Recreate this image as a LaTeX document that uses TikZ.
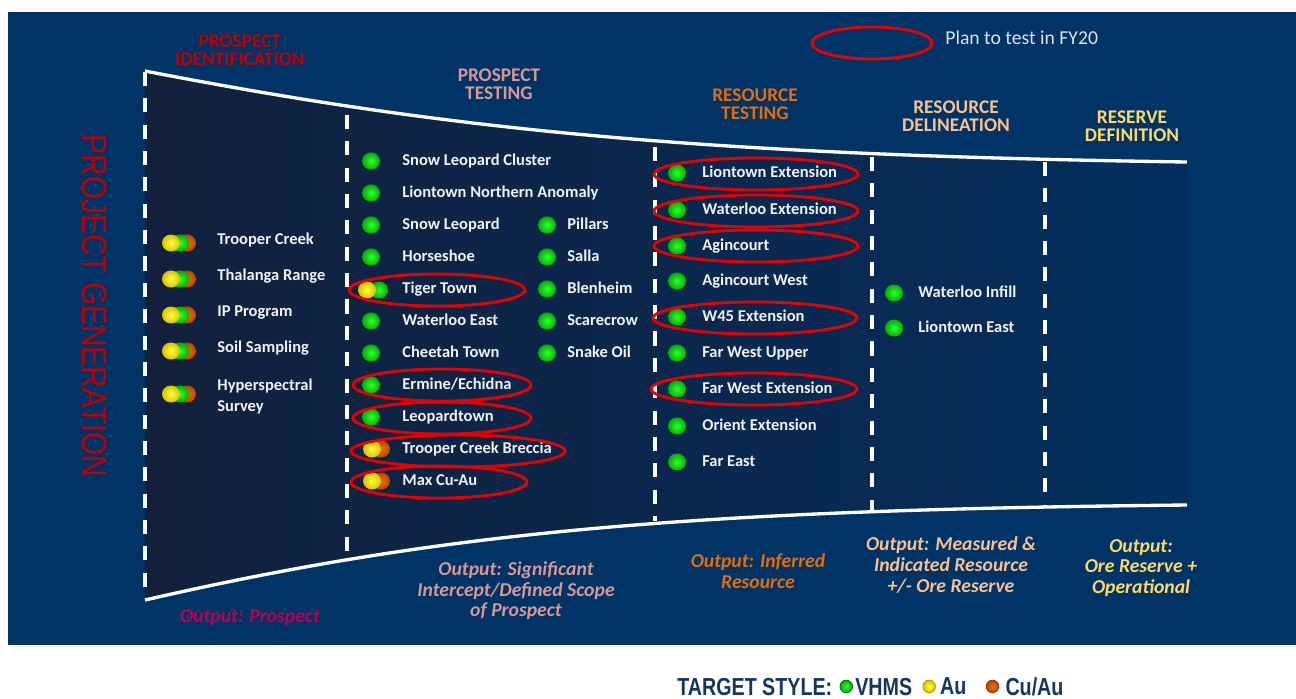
\documentclass[tikz,border=0pt]{standalone}
\usepackage{fontspec}
\setmainfont{Carlito}
\newfontfamily\gensans[FakeStretch=0.85]{Liberation Sans}
\newfontfamily\keysans[FakeStretch=0.8]{Liberation Sans}
\usepackage{xcolor}
\usepackage{tikz}
\usetikzlibrary{positioning}
\definecolor{bgblue}{RGB}{0,51,102}
\definecolor{funneldark}{RGB}{18,32,60}
\definecolor{funnellight}{RGB}{3,47,94}
\definecolor{idred}{RGB}{192,0,0}
\definecolor{prospred}{RGB}{190,0,80}
\definecolor{testpink}{RGB}{217,150,148}
\definecolor{resorange}{RGB}{228,108,10}
\definecolor{delpeach}{RGB}{250,192,144}
\definecolor{resyellow}{RGB}{255,217,102}
\definecolor{planred}{RGB}{235,0,0}
\definecolor{itemwhite}{RGB}{242,242,242}
\definecolor{notegrey}{RGB}{222,228,238}
\definecolor{keynavy}{RGB}{22,54,98}
\definecolor{vhmsin}{RGB}{50,255,50}
\definecolor{vhmsout}{RGB}{0,175,0}
\definecolor{auin}{RGB}{255,255,60}
\definecolor{auout}{RGB}{215,195,0}
\definecolor{cuin}{RGB}{240,112,12}
\definecolor{cuout}{RGB}{185,70,0}

\begin{document}
\begin{tikzpicture}[
    x=0.02cm, y=-0.02cm,
    stage/.style={align=center, inner sep=0pt, font=\fontsize{11}{10.3}\selectfont\bfseries},
    output/.style={align=center, inner sep=0pt, font=\fontsize{11.2}{11.7}\selectfont\bfseries\itshape},
    item/.style={anchor=mid west, inner sep=0pt, text=itemwhite, font=\fontsize{9.4}{11.5}\selectfont\bfseries},
    plan/.style={draw=planred, line width=1.6pt},
    rim/.style={draw=white, line width=1.9pt},
    divider/.style={draw=white, line width=2.2pt, dash pattern=on 8pt off 7pt},
    vhms/.style={inner color=vhmsin, outer color=vhmsout},
    au/.style={inner color=auin, outer color=auout},
    cuau/.style={inner color=cuin, outer color=cuout},
    pics/vhmsdot/.style={code={\shade[vhms] (0,0) ellipse (9 and 8.5);}},
    pics/augreendot/.style={code={\shade[vhms] (8,1) ellipse (9 and 8.5); \shade[au] (-4,1) ellipse (9 and 8.5);}},
    pics/aucudot/.style={code={\shade[cuau] (10,0) ellipse (9 and 8.5); \shade[au] (1,0) ellipse (9 and 8.5);}},
    pics/alldot/.style={code={\shade[cuau] (6,0) ellipse (9 and 8.5); \shade[vhms] (-1,0) ellipse (9 and 8.5); \shade[au] (-10,0) ellipse (9 and 8.5);}},
    key/.style={inner sep=0pt, text depth=0pt, text=keynavy, font=\keysans\fontsize{14}{15}\selectfont\bfseries},
    keydot/.style={circle, inner sep=0pt, minimum size=0.25cm, line width=0.5pt},
]
    \fill[white] (0,0) rectangle (1296,698);
    \useasboundingbox (0,0) rectangle (1296,698);
    \fill[bgblue] (8,12) rectangle (1296,645);

    % funnel
    \shade[left color=funneldark, right color=funnellight]
        (145,71) .. controls (450,130) and (700,155) .. (1187,162)
        -- (1187,505) .. controls (700,510) and (450,530) .. (145,600) -- cycle;
    \draw[rim] (145,71) .. controls (450,130) and (700,155) .. (1187,162);
    \draw[rim] (145,600) .. controls (450,530) and (700,510) .. (1187,505);
    \foreach \x/\ya/\yb in {145/72/599, 347/115/553, 655/147/521, 872/157/510, 1045/162/505}
        \draw[divider] (\x,\ya) -- (\x,\yb);

    % stages
    \node[stage, text=idred] (identify) at (240,50.5) {PROSPECT\\IDENTIFICATION};
    \node[stage, text=testpink] (testing) at (499,84) {PROSPECT\\TESTING};
    \node[stage, text=resorange] (restest) at (755,104) {RESOURCE\\TESTING};
    \node[stage, text=delpeach] (delineate) at (956,116.5) {RESOURCE\\DELINEATION};
    \node[stage, text=resyellow] (reserve) at (1132,126.5) {RESERVE\\DEFINITION};

    \node[rotate=-90, inner sep=0pt, text=idred, font=\gensans\fontsize{20}{20}\selectfont] (projgen) at (95,306) {PROJECT GENERATION};

    \draw[plan] (872,43) ellipse (60 and 16);
    \node[anchor=mid west, inner sep=0pt, text=notegrey, font=\fontsize{11.2}{13}\selectfont] (plannote) at (945,40) {Plan to test in FY20};

    % targets
    \foreach \y/\txt [count=\i] in {240/Trooper Creek, 276/Thalanga Range, 312/IP Program, 348/Soil Sampling}{
        \pic at (181,\y+3) {alldot};
        \node[item] (pi-\i) at (217,\y) {\txt};
    }
    \pic at (181,394) {alldot};
    \node[item, anchor=north west, align=left] (pi-5) at (217,379) {Hyperspectral\\Survey};

    \foreach \y/\kind/\txt [count=\i] in {161/vhmsdot/Snow Leopard Cluster, 193/vhmsdot/Liontown Northern Anomaly,
        225/vhmsdot/Snow Leopard, 257/vhmsdot/Horseshoe, 289/augreendot/Tiger Town, 321/vhmsdot/Waterloo East,
        353/vhmsdot/Cheetah Town, 385/vhmsdot/{Ermine/Echidna}, 417/vhmsdot/Leopardtown,
        449/aucudot/Trooper Creek Breccia, 481/aucudot/Max Cu-Au}{
        \pic at (371,\y) {\kind};
        \node[item] (pt-\i) at (402,\y) {\txt};
    }
    \foreach \y/\txt [count=\i] in {225/Pillars, 257/Salla, 289/Blenheim, 321/Scarecrow, 353/Snake Oil}{
        \pic at (547,\y) {vhmsdot};
        \node[item] (ps-\i) at (567,\y) {\txt};
    }
    \foreach \y/\txt [count=\i] in {173/Liontown Extension, 210/Waterloo Extension, 246/Agincourt, 281/Agincourt West,
        317/W45 Extension, 353/Far West Upper, 389/Far West Extension, 426/Orient Extension, 462/Far East}{
        \pic at (677,\y) {vhmsdot};
        \node[item] (rt-\i) at (702,\y) {\txt};
    }
    \foreach \y/\txt [count=\i] in {293/Waterloo Infill, 328/Liontown East}{
        \pic at (894,\y) {vhmsdot};
        \node[item] (rd-\i) at (918,\y) {\txt};
    }

    \foreach \cx/\cy/\rx in {437/290/88, 442/385/89, 442/418/89, 458/451/107, 439/482/88,
        756/174/102, 756/211/102, 756/246/102, 755/318/102, 754/389/103}
        \draw[plan] (\cx,\cy) ellipse [x radius=\rx, y radius=16];

    % outputs
    \node[output, text=prospred] (out-id) at (250,618) {Output: Prospect};
    \node[output, text=testpink] (out-pt) at (516,591) {Output: Significant\\Intercept/Defined Scope\\of Prospect};
    \node[output, text=resorange] (out-rt) at (758,571) {Output: Inferred\\Resource};
    \node[output, text=delpeach] (out-rd) at (951,565) {Output: Measured \&\\Indicated Resource\\+/- Ore Reserve};
    \node[output, text=resyellow] (out-rs) at (1141,568) {Output:\\Ore Reserve +\\Operational};

    % key
    \node[key, anchor=base west] (keytitle) at (677,695) {TARGET STYLE:};
    \node[keydot, vhms, draw=vhmsout!70!black, right=0.14cm of keytitle] (keyvhms) {};
    \node[key, right=0.04cm of keyvhms] (keyvhmstext) {VHMS};
    \node[keydot, au, draw=auout!80!black, right=0.2cm of keyvhmstext] (keyau) {};
    \node[key, right=0.08cm of keyau] (keyautext) {Au};
    \node[keydot, cuau, draw=cuout!80!black, right=0.38cm of keyautext] (keycu) {};
    \node[key, right=0.12cm of keycu] (keycutext) {Cu/Au};
\end{tikzpicture}
\end{document}
